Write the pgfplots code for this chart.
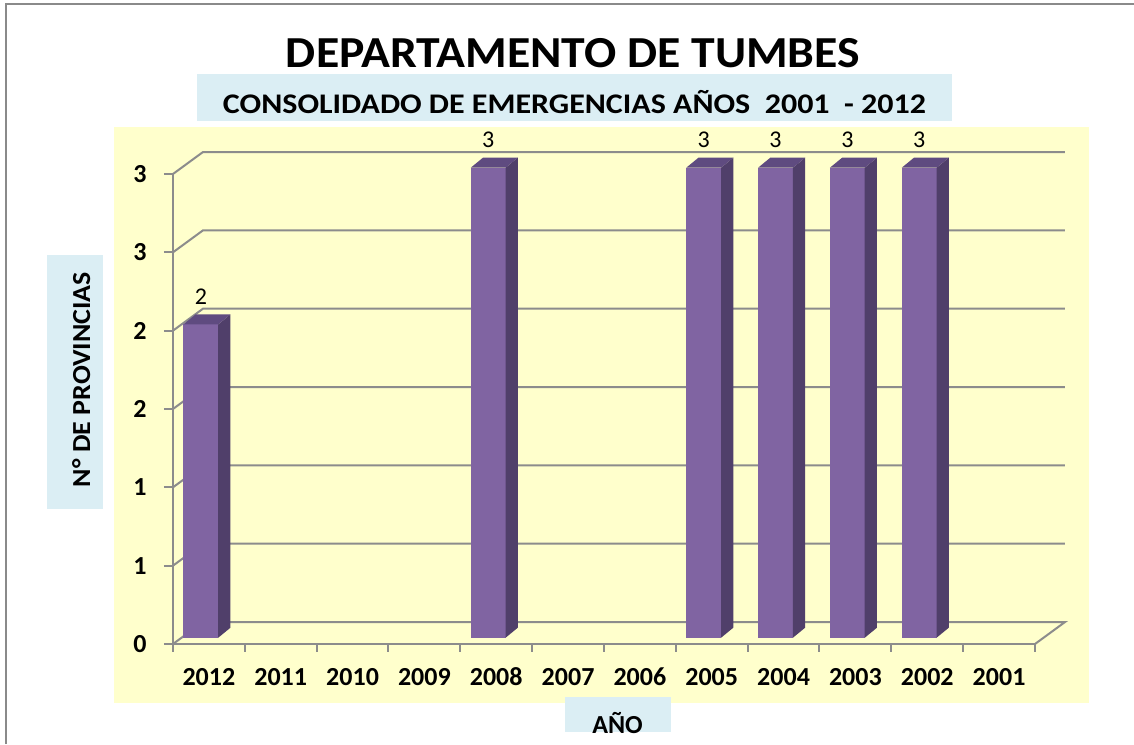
\documentclass[border=0pt]{standalone}
\usepackage{pgfplots}
\pgfplotsset{compat=1.18}
\usepackage{pgfplotstable}
\usepackage{graphicx}
\usepackage{fontspec}
\setmainfont{Carlito}

\definecolor{plotbg}{HTML}{FFFFCC}
\definecolor{boxc}{HTML}{DBEEF4}
\definecolor{gridc}{HTML}{8C8C8C}
\definecolor{bordergray}{HTML}{8A8A8A}
\definecolor{barfront}{HTML}{8064A2}
\definecolor{barside}{HTML}{503F6A}
\definecolor{bartop}{HTML}{5F4B80}

% data: index, year, number of provinces
\pgfplotstableread{
idx year val
0 2012 2
1 2011 0
2 2010 0
3 2009 0
4 2008 3
5 2007 0
6 2006 0
7 2005 3
8 2004 3
9 2003 3
10 2002 3
11 2001 0
}\datatable

% faces of a 3D bar: x offset, fraction of value, y offset
\pgfplotstableread{
dx f o
-0.355 0 0.04
0.130 0 0.04
0.130 1 0.04
-0.355 1 0.04
}\frontface
\pgfplotstableread{
dx f o
0.130 0 0.04
0.300 0 0.104
0.300 1 0.104
0.130 1 0.04
}\sideface
\pgfplotstableread{
dx f o
-0.355 1 0.04
0.130 1 0.04
0.300 1 0.104
-0.185 1 0.104
}\topface

\begin{document}
\begin{tikzpicture}[x=1pt,y=1pt]
\useasboundingbox (0,0) rectangle (567,372);
\fill[white] (0,0) rectangle (567,372);
\draw[bordergray, line width=1pt] (3,0) -- (3,370) -- (567,370);
\begin{axis}[
  at={(57pt,20.5pt)}, anchor=south west,
  scale only axis, width=487.5pt, height=288pt,
  xmin=-1.321, xmax=12.252, ymin=-0.3766, ymax=3.300,
  axis line style={draw=none},
  tick style={draw=none}, major tick length=0pt,
  axis background/.style={fill=plotbg},
  xtick={0,...,11},
  xticklabels={2012,2011,2010,2009,2008,2007,2006,2005,2004,2003,2002,2001},
  ytick={0,0.5,1,1.5,2,2.5,3},
  yticklabels={0,1,1,2,2,3,3},
  ticklabel style={font=\fontsize{13pt}{15pt}\selectfont\bfseries},
  yticklabel style={anchor=center, xshift=13pt},
  xticklabel style={anchor=center, yshift=13pt},
  clip=false,
]
% back gridlines
\pgfplotsinvokeforeach{0.5,1,1.5,2,2.5,3}{
  \draw[gridc, line width=1pt] (axis cs:-0.5,#1) -- (axis cs:-0.083,#1+0.14) -- (axis cs:11.917,#1+0.14);
}
% floor
\draw[gridc, line width=1pt] (axis cs:-0.5,0) -- (axis cs:-0.083,0.14) -- (axis cs:11.917,0.14) -- (axis cs:11.5,0);
% bars
\pgfplotsinvokeforeach{0,...,11}{
  \pgfplotstablegetelem{#1}{val}\of\datatable
  \pgfmathsetmacro\barval{\pgfplotsretval}
  \ifdim\barval pt>0pt
    \edef\tmp{\noexpand\addplot[fill=barfront, draw=none, forget plot] table[x expr={#1+\noexpand\thisrow{dx}}, y expr={\barval*\noexpand\thisrow{f}+\noexpand\thisrow{o}}] {\noexpand\frontface};}\tmp
    \edef\tmp{\noexpand\addplot[fill=barside, draw=none, forget plot] table[x expr={#1+\noexpand\thisrow{dx}}, y expr={\barval*\noexpand\thisrow{f}+\noexpand\thisrow{o}}] {\noexpand\sideface};}\tmp
    \edef\tmp{\noexpand\addplot[fill=bartop, draw=none, forget plot] table[x expr={#1+\noexpand\thisrow{dx}}, y expr={\barval*\noexpand\thisrow{f}+\noexpand\thisrow{o}}] {\noexpand\topface};}\tmp
  \fi
}
% data labels
\addplot[draw=none, mark=none, forget plot,
  nodes near coords={\pgfplotspointmeta},
  point meta=explicit symbolic,
  every node near coord/.append style={anchor=center, font=\fontsize{12pt}{14pt}\selectfont},
] table[x expr=\thisrow{idx}-0.112, y expr={\thisrow{val}>0 ? \thisrow{val}+0.218 : nan}, meta=val] {\datatable};
% front axis lines and ticks
\draw[gridc, line width=1pt] (axis cs:-0.5,3) -- (axis cs:-0.5,0) -- (axis cs:11.5,0);
\pgfplotsinvokeforeach{0,0.5,1,1.5,2,2.5,3}{
  \draw[gridc, line width=1pt] (axis cs:-0.625,#1) -- (axis cs:-0.5,#1);
}
\pgfplotsinvokeforeach{0,...,12}{
  \draw[gridc, line width=1pt] (axis cs:#1-0.5,0) -- (axis cs:#1-0.5,-0.051);
}
\end{axis}
% title
\node[anchor=base, inner sep=0pt] at (286.5,338) {\resizebox{287pt}{\height}{\fontsize{22.15pt}{26pt}\selectfont\bfseries DEPARTAMENTO DE TUMBES}};
% subtitle
\fill[boxc] (98.5,311.5) rectangle (476,335);
\node[anchor=base, inner sep=0pt] at (287.25,315) {\resizebox{351.5pt}{\height}{\fontsize{14.2pt}{16pt}\selectfont\bfseries CONSOLIDADO DE EMERGENCIAS AÑOS~ 2001~ - 2012}};
% y label
\fill[boxc] (23.5,117.5) rectangle (51.5,244.5);
\node[anchor=base, inner sep=0pt, rotate=90] at (45,182.25) {\resizebox{107.5pt}{\height}{\fontsize{13pt}{15pt}\selectfont\bfseries N° DE PROVINCIAS}};
% x label
\fill[boxc] (282.5,6) rectangle (335.5,23.5);
\node[anchor=base, inner sep=0pt] at (308.75,5.5) {\fontsize{13pt}{15pt}\selectfont\bfseries AÑO};
\end{tikzpicture}
\end{document}
